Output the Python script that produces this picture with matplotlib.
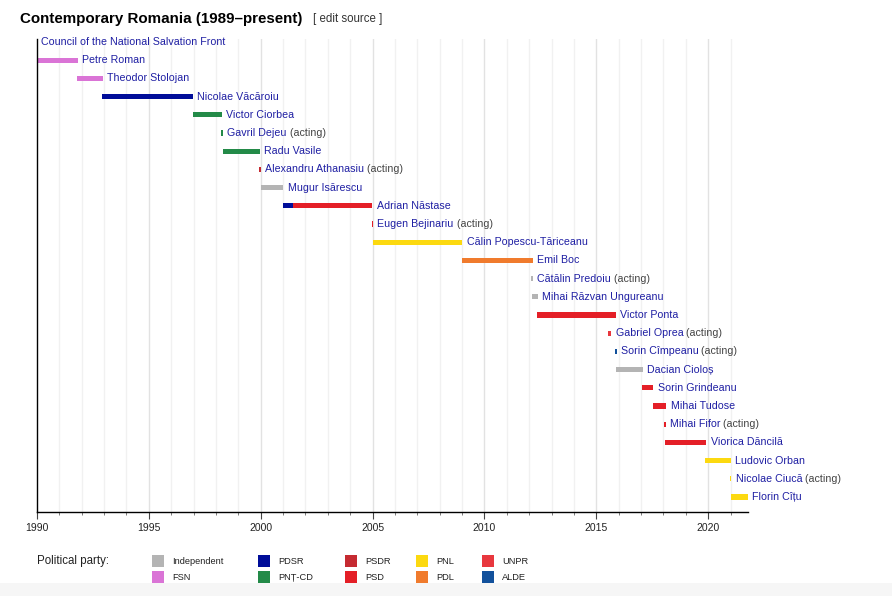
import matplotlib
matplotlib.use("Agg")
import matplotlib.pyplot as plt
from matplotlib.patches import Rectangle

plt.rcParams['font.family'] = ['Liberation Sans', 'DejaVu Sans']

# ---- data ----
names = ["Council of the National Salvation Front", "Petre Roman", "Theodor Stolojan",
         "Nicolae Văcăroiu", "Victor Ciorbea", "Gavril Dejeu", "Radu Vasile",
         "Alexandru Athanasiu", "Mugur Isărescu", "Adrian Năstase", "Eugen Bejinariu",
         "Călin Popescu-Tăriceanu", "Emil Boc", "Cătălin Predoiu", "Mihai Răzvan Ungureanu",
         "Victor Ponta", "Gabriel Oprea", "Sorin Cîmpeanu", "Dacian Cioloș",
         "Sorin Grindeanu", "Mihai Tudose", "Mihai Fifor", "Viorica Dăncilă",
         "Ludovic Orban", "Nicolae Ciucă", "Florin Cîțu"]
acting = [False, False, False, False, False, True, False, True, False, False, True,
          False, False, True, False, False, True, True, False, False, False, True,
          False, False, True, False]

# term segments (row index, start, end, party)
seg_row = [0, 1, 2, 3, 4, 5, 6, 7, 8, 9, 9, 10, 11, 12, 13, 14, 15, 16, 17, 18,
           19, 20, 21, 22, 23, 24, 25]
seg_start = [1989.97, 1989.99, 1991.80, 1992.92, 1996.96, 1998.25, 1998.30, 1999.96,
             1999.99, 2000.99, 2001.44, 2004.97, 2005.02, 2009.00, 2012.10, 2012.14,
             2012.37, 2015.50, 2015.85, 2015.90, 2017.04, 2017.52, 2018.06, 2018.08,
             2019.88, 2020.97, 2021.02]
seg_end = [1989.99, 1991.82, 1992.93, 1996.96, 1998.26, 1998.31, 1999.96, 2000.00,
           2001.01, 2001.44, 2004.99, 2005.02, 2009.00, 2012.17, 2012.14, 2012.38,
           2015.88, 2015.67, 2015.89, 2017.08, 2017.54, 2018.13, 2018.09, 2019.91,
           2021.02, 2021.03, 2021.78]
seg_party = ["FSN", "FSN", "FSN", "PDSR", "PNȚ-CD", "PNȚ-CD", "PNȚ-CD", "PSDR",
             "Independent", "PDSR", "PSD", "PSD", "PNL", "PDL", "Independent",
             "Independent", "PSD", "UNPR", "ALDE", "Independent", "PSD", "PSD", "PSD",
             "PSD", "PNL", "PNL", "PNL"]

party_names = ["Independent", "FSN", "PDSR", "PNȚ-CD", "PSDR", "PSD", "PNL", "PDL",
               "UNPR", "ALDE"]
party_colors = ["#b4b4b4", "#da74d6", "#000d99", "#238a48", "#c52a31", "#e41f27",
                "#fcd910", "#f07b2d", "#e8373e", "#12519c"]
color_of = dict(zip(party_names, party_colors))

years_major = [1990, 1995, 2000, 2005, 2010, 2015, 2020]
x_min, x_max = 1990, 2021.78

# ---- figure ----
W, H = 892, 596
fig = plt.figure(figsize=(W / 100, H / 100), dpi=100)
fig.patch.set_facecolor("white")

# light grey page band at bottom
fig.patches.append(Rectangle((0, 0), 1, 13 / H, transform=fig.transFigure,
                             facecolor="#f6f6f6", edgecolor="none", zorder=0))

ax_left, ax_right, ax_top, ax_bot = 37, 748, 39, 512
ax = fig.add_axes([ax_left / W, 1 - ax_bot / H, (ax_right - ax_left) / W,
                   (ax_bot - ax_top) / H])

row0_px, row_step = 42, 18.2
y_top = (ax_top - row0_px) / row_step
y_bot = (ax_bot - row0_px) / row_step
ax.set_ylim(y_bot, y_top)
ax.set_xlim(x_min, x_max)

# gridlines
for yr in range(1991, 2022):
    c = "#e2e2e2" if yr % 5 == 0 else "#f1f1f1"
    ax.axvline(yr, color=c, lw=1, zorder=0)

# bars
min_w = 0.07
for r, s, e, p in zip(seg_row, seg_start, seg_end, seg_party):
    if e <= x_min:
        continue
    left = max(s, x_min)
    width = e - left
    if width < min_w:
        left = left - (min_w - width) / 2
        width = min_w
    ax.barh(r, width, left=left, height=0.28,
            color=color_of[p], edgecolor="none", zorder=2)

# labels
row_end = {}
for r, e in zip(seg_row, seg_end):
    row_end[r] = max(row_end.get(r, -1e9), e)
for i, (nm, act) in enumerate(zip(names, acting)):
    xe = max(row_end[i], x_min)
    t = ax.annotate(nm, xy=(xe, i), xytext=(3.2, 0), textcoords="offset points",
                    va="center", ha="left", fontsize=7.7, color="#1f1fa3",
                    annotation_clip=False, zorder=3)
    if act:
        ax.annotate(" (acting)", xy=(1, 0), xycoords=t, va="bottom", ha="left",
                    fontsize=7.7, color="#444444", annotation_clip=False)

# axes styling
for side in ["top", "right"]:
    ax.spines[side].set_visible(False)
ax.spines["left"].set_color("black")
ax.spines["bottom"].set_color("black")
ax.spines["left"].set_linewidth(1)
ax.spines["bottom"].set_linewidth(1)
ax.set_yticks([])
ax.set_xticks(years_major)
ax.set_xticklabels([str(y) for y in years_major], fontsize=7.5, color="#222222")
ax.set_xticks(list(range(1990, 2022)), minor=True)
ax.tick_params(axis="x", which="major", length=5, width=0.8, color="#444444", pad=3)
ax.tick_params(axis="x", which="minor", length=2.5, width=0.6, color="#666666")
ax.set_facecolor("white")

# title
fig.text(20 / W, 1 - 19 / H, "Contemporary Romania (1989–present)", fontsize=10.9,
         fontweight="bold", va="center", ha="left", color="#000000")
fig.text(313 / W, 1 - 19 / H, "[ edit source ]", fontsize=8.3, va="center",
         ha="left", color="#333333")

# legend
fig.text(37 / W, 1 - 561 / H, "Political party:", fontsize=8.3, va="center",
         ha="left", color="#222222")
col_x = [152, 258, 345, 416, 482]
row_y = [561, 577]
for k, (pn, pc) in enumerate(zip(party_names, party_colors)):
    cx = col_x[k // 2]
    cy = row_y[k % 2]
    fig.patches.append(Rectangle((cx / W, 1 - (cy + 6) / H), 12 / W, 12 / H,
                                 transform=fig.transFigure, facecolor=pc,
                                 edgecolor="none"))
    fig.text((cx + 20) / W, 1 - cy / H, pn, fontsize=6.7, va="center", ha="left",
             color="#222222")

fig.savefig("out.png", dpi=100)
